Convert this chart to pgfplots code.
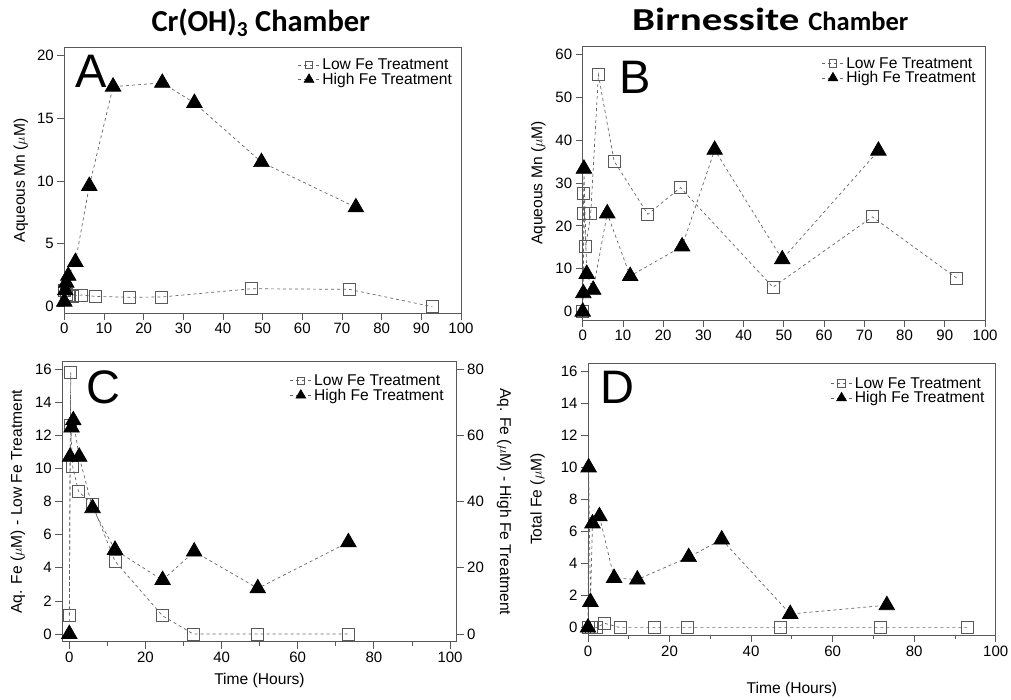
\documentclass[border=0pt]{standalone}
\usepackage{pgfplots}
\pgfplotsset{compat=1.18}
\usepackage{fontspec}
\setmainfont{Liberation Sans}
\newfontfamily\letterfont{Liberation Sans}
\newfontfamily\titlefont{Carlito}
\newfontfamily\titlefontB{Carlito}[FakeStretch=1.28]
\newcommand\tickfont{\fontsize{15}{17}\selectfont}
\newcommand\labfont{\fontsize{15.6}{18}\selectfont}
\newcommand\legfont{\fontsize{15.6}{16}\selectfont}
\newcommand\letfont{\letterfont\fontsize{47}{50}\selectfont}
\colorlet{framec}{black!65}
\colorlet{linec}{black!60}
\pgfplotsset{
  panel/.style={scale only axis, clip=false,
    axis line style={framec, line width=0.8pt},
    every tick/.style={framec, line width=0.8pt},
    tick align=outside, major tick length=7pt, minor tick length=4pt,
    xtick pos=bottom, ytick pos=left,
    tick label style={font=\tickfont, black},
    label style={font=\labfont},
    /pgf/number format/assume math mode=true,
    legend cell align=left,
    legend style={draw=none, fill=none, font=\legfont, row sep=-2pt, inner sep=1pt},
    legend image code/.code={\draw[mark repeat=2,mark phase=2,##1,every mark/.append style={scale=0.62}] plot coordinates {(0pt,0pt) (11pt,0pt) (22pt,0pt)};},
  },
  lowfe/.style={linec, dash pattern=on 3pt off 3pt, line width=0.7pt,
    mark=square, mark size=6pt,
    mark options={solid, line width=0.9pt, draw=black!65, fill=none}},
  highfe/.style={linec, dash pattern=on 3pt off 3pt, line width=0.7pt,
    mark=triangle*, mark size=9pt,
    mark options={solid, draw=black, fill=black}},
}
\begin{document}
\begin{tikzpicture}[x=1pt,y=1pt]
\path[use as bounding box] (0,0) rectangle (1011,700);
% titles
\node[anchor=base, inner sep=0pt] at (260.8,668.5) {\titlefont\fontsize{30.5}{33}\selectfont\bfseries Cr(OH)\textsubscript{3} Chamber};
\node[anchor=base west, inner sep=0pt] at (632,669.5) {{\titlefontB\fontsize{32}{34}\selectfont\bfseries Birnessite}\hspace{9pt}{\titlefont\fontsize{26.5}{28}\selectfont\bfseries Chamber}};

% ---------------- Panel A
\begin{axis}[panel, at={(64.3pt,387pt)}, anchor=south west,
  width=396.7pt, height=265.3pt,
  xmin=0, xmax=100, ymin=-0.5, ymax=20.6,
  xtick={0,10,...,100}, ytick={0,5,...,20},
  ylabel={Aqueous Mn ($\mu$M)}, ylabel shift=2pt,
  legend style={at={(0.985,0.97)}, anchor=north east}]
\addplot[lowfe] coordinates {(0,1.3) (0.5,1.0) (1,0.9) (2,0.85) (4.4,0.93) (7.9,0.82) (16.3,0.75) (24.5,0.77) (47.2,1.43) (71.8,1.38) (92.8,0)};
\addlegendentry{Low Fe Treatment}
\addplot[highfe] coordinates {(0,0.4) (0.25,1.3) (0.5,1.9) (1,2.45) (2.8,3.55) (6.3,9.6) (12.3,17.5) (24.7,17.8) (32.8,16.2) (49.7,11.5) (73.5,7.9)};
\addlegendentry{High Fe Treatment}
\end{axis}

% ---------------- Panel B
\begin{axis}[panel, at={(582.7pt,380pt)}, anchor=south west,
  width=402.3pt, height=274pt,
  xmin=0, xmax=100, ymin=-1.93, ymax=61.9,
  xtick={0,10,...,100}, ytick={0,10,...,60},
  ylabel={Aqueous Mn ($\mu$M)}, ylabel shift=3pt,
  legend style={at={(0.985,0.97)}, anchor=north east}]
\addplot[lowfe] coordinates {(0,0) (0.15,27.5) (0.3,22.9) (0.8,15.3) (2.0,22.9) (3.9,55.2) (7.8,35.1) (16.2,22.7) (24.3,28.9) (47.3,5.7) (72,22.1) (93,7.8)};
\addlegendentry{Low Fe Treatment}
\addplot[highfe] coordinates {(0,0) (0.15,4.3) (0.3,33.3) (1.0,8.8) (2.6,5.1) (6.1,22.9) (11.8,8.3) (24.7,15.2) (32.8,37.7) (49.6,12.2) (73.5,37.5)};
\addlegendentry{High Fe Treatment}
\end{axis}

% ---------------- Panel C (left axis: low Fe)
\begin{axis}[panel, at={(62.3pt,58.3pt)}, anchor=south west,
  width=394.4pt, height=280pt,
  xmin=-1.84, xmax=101.75, ymin=-0.46, ymax=16.44,
  xtick={0,20,...,100}, minor xtick={10,30,...,90}, ytick={0,2,...,16},
  xlabel={Time (Hours)}, xlabel style={yshift=-3pt},
  ylabel={Aq. Fe ($\mu$M) - Low Fe Treatment}, ylabel shift=3pt]
\addplot[lowfe] coordinates {(0,1.15) (0.37,15.8) (0.3,12.6) (0.9,10.1) (2.4,8.63) (6.1,7.8) (12,4.4) (24.5,1.1) (32.6,0) (49.5,0) (73.3,0)};
\end{axis}
% ---------------- Panel C (right axis: high Fe)
\begin{axis}[panel, at={(62.3pt,58.3pt)}, anchor=south west,
  width=394.4pt, height=280pt,
  xmin=-1.84, xmax=101.75, ymin=-2.3, ymax=82.2,
  axis x line=none, axis y line*=right, ytick pos=right,
  ytick={0,20,...,80},
  ylabel={Aq. Fe ($\mu$M) - High Fe Treatment}, ylabel shift=6pt,
  ylabel style={rotate=180},
  legend style={at={(0.975,0.965)}, anchor=north east}]
\addlegendimage{lowfe}
\addlegendentry{Low Fe Treatment}
\addplot[highfe] coordinates {(0,0) (0.2,53.5) (0.6,62.3) (1.05,64.5) (2.6,53.5) (6.1,38) (12,25.4) (24.5,16.3) (32.8,24.9) (49.5,13.8) (73.3,27.7)};
\addlegendentry{High Fe Treatment}
\end{axis}

% ---------------- Panel D
\begin{axis}[panel, at={(588pt,65pt)}, anchor=south west,
  width=407.7pt, height=271.7pt,
  xmin=0, xmax=100, ymin=-0.46, ymax=16.5,
  xtick={0,20,...,100}, minor xtick={10,30,...,90}, ytick={0,2,...,16},
  xlabel={Time (Hours)}, xlabel style={yshift=-19pt},
  ylabel={Total Fe ($\mu$M)}, ylabel shift=9pt,
  legend style={at={(0.98,0.96)}, anchor=north east}]
\addplot[lowfe] coordinates {(0,0) (0.8,0) (2,0) (4.1,0.27) (7.9,0) (16.3,0) (24.5,0) (47.1,0) (71.8,0) (93,0)};
\addlegendentry{Low Fe Treatment}
\addplot[highfe] coordinates {(0,0) (0.15,10) (0.6,1.6) (1.1,6.5) (2.8,6.95) (6.4,3.1) (12.1,3.0) (24.7,4.4) (32.8,5.5) (49.6,0.85) (73.3,1.4)};
\addlegendentry{High Fe Treatment}
\end{axis}

% panel letters
\node[anchor=north west, inner sep=0pt] at (75,645) {\letfont A};
\node[anchor=north west, inner sep=0pt] at (619,639) {\letfont B};
\node[anchor=north west, inner sep=0pt] at (86,330) {\letfont C};
\node[anchor=north west, inner sep=0pt] at (600,329) {\letfont D};
\end{tikzpicture}
\end{document}
